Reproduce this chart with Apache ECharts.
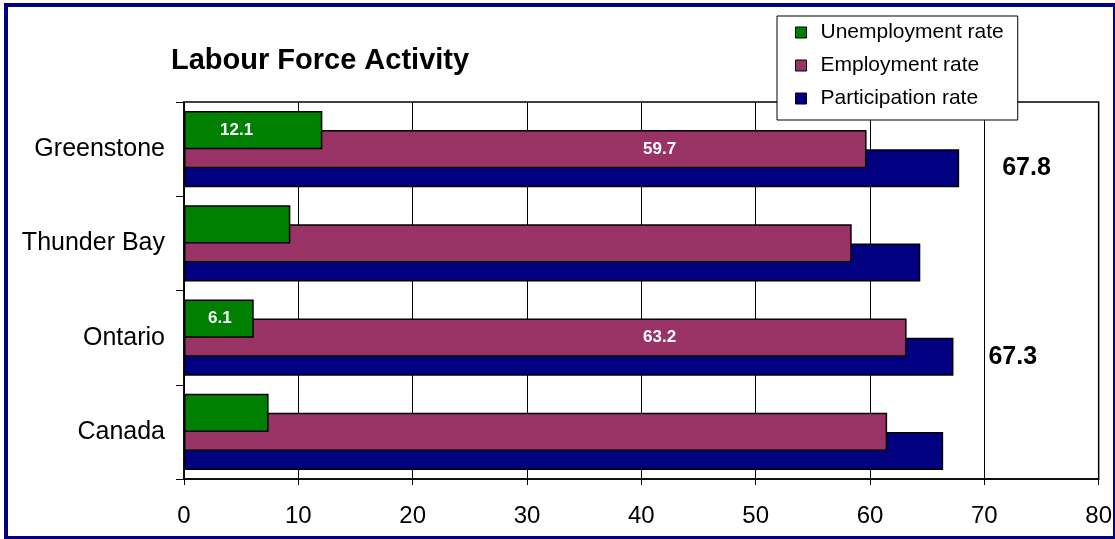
<!DOCTYPE html>
<html><head><meta charset="utf-8">
<script src="https://cdn.jsdelivr.net/npm/echarts@6/dist/echarts.min.js"></script>
<style>html,body{margin:0;padding:0;background:#fff}#c{width:1115px;height:539px}</style>
</head><body><div id="c"></div>
<script>
// ---- data ----
const categories = ['Greenstone', 'Thunder Bay', 'Ontario', 'Canada'];
const unemploymentRate = [12.1, 9.3, 6.1, 7.4];
const employmentRate = [59.7, 58.4, 63.2, 61.5];
const participationRate = [67.8, 64.4, 67.3, 66.4];
const seriesNames = ['Unemployment rate', 'Employment rate', 'Participation rate'];
const xTicks = [0, 10, 20, 30, 40, 50, 60, 70, 80];
const labelledCategories = ['Greenstone', 'Ontario'];

// ---- styling ----
const FONT = "'Liberation Sans', Arial, Helvetica, sans-serif";
const COLORS = ['#008000', '#993366', '#000080'];
const greenLabelX = {Greenstone: 36, Ontario: 24};
const navyLabelDist = {Greenstone: 43, Ontario: 35};

function withLabels(values, makeLabel) {
  return values.map((v, i) => {
    const c = categories[i];
    if (labelledCategories.indexOf(c) >= 0) return {value: v, label: makeLabel(c)};
    return v;
  });
}
const whiteLbl = {show: true, color: '#fff', fontFamily: FONT, fontWeight: 'bold', fontSize: 17,
  align: 'left', verticalAlign: 'middle'};

const chart = echarts.init(document.getElementById('c'), null, {renderer: 'canvas'});
chart.setOption({
  animation: false,
  backgroundColor: '#fff',
  title: {
    text: 'Labour Force Activity', left: 166, top: 41,
    textStyle: {fontFamily: FONT, fontWeight: 'bold', fontSize: 29, color: '#000'}
  },
  graphic: [{
    type: 'rect', z: 100, silent: true,
    shape: {x: 6, y: 5, width: 1109, height: 533},
    style: {fill: null, stroke: '#000080', lineWidth: 4}
  }],
  legend: {
    data: seriesNames, orient: 'vertical', left: 777, top: 16,
    padding: [6, 14, 11, 18], itemGap: 12, itemWidth: 11, itemHeight: 11,
    icon: 'rect', backgroundColor: '#fff', borderColor: '#000', borderWidth: 1,
    z: 10,
    itemStyle: {borderColor: '#000', borderWidth: 1},
    textStyle: {fontFamily: FONT, fontSize: 21, color: '#000', lineHeight: 21, padding: [0, 0, 0, 9]}
  },
  grid: {left: 184, right: 15, top: 102, bottom: 60, show: true, borderColor: '#000', borderWidth: 1.5, backgroundColor: 'transparent'},
  xAxis: {
    type: 'value', min: xTicks[0], max: xTicks[xTicks.length - 1], interval: 10,
    axisLine: {show: true, lineStyle: {color: '#000', width: 1.5}},
    axisTick: {show: true, length: 6, lineStyle: {color: '#000'}},
    splitLine: {show: true, lineStyle: {color: '#000', width: 1}},
    axisLabel: {fontFamily: FONT, fontSize: 24, color: '#000', margin: 25}
  },
  yAxis: {
    type: 'category', data: categories, inverse: true,
    axisLine: {show: true, lineStyle: {color: '#000', width: 1.5}},
    axisTick: {show: true, length: 8, lineStyle: {color: '#000'}},
    axisLabel: {fontFamily: FONT, fontSize: 25, color: '#000', margin: 19}
  },
  series: [
    {
      name: seriesNames[0], type: 'bar', z: 4, barGap: '-50%', barCategoryGap: '19%',
      itemStyle: {color: COLORS[0], borderColor: '#000', borderWidth: 1.5},
      data: withLabels(unemploymentRate, c => Object.assign({}, whiteLbl, {position: [greenLabelX[c], '50%']}))
    },
    {
      name: seriesNames[1], type: 'bar', z: 3, barGap: '-50%', barCategoryGap: '19%',
      itemStyle: {color: COLORS[1], borderColor: '#000', borderWidth: 1.5},
      data: withLabels(employmentRate, c => Object.assign({}, whiteLbl, {position: [459, '50%']}))
    },
    {
      name: seriesNames[2], type: 'bar', z: 2, barGap: '-50%', barCategoryGap: '19%',
      itemStyle: {color: COLORS[2], borderColor: '#000', borderWidth: 1.5},
      data: withLabels(participationRate, c => ({show: true, position: 'right', distance: navyLabelDist[c],
        color: '#000', fontFamily: FONT, fontWeight: 'bold', fontSize: 25}))
    }
  ]
});
</script></body></html>
